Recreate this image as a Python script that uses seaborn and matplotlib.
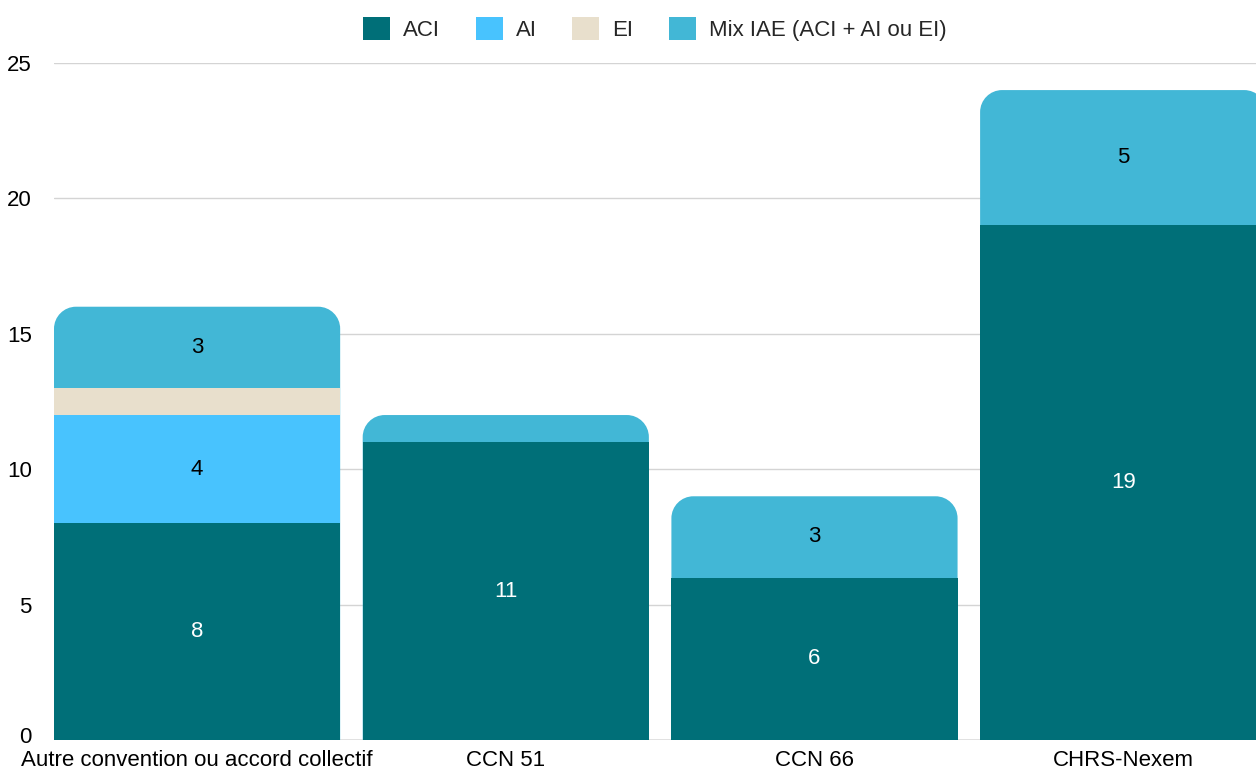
import numpy as np
import pandas as pd
import matplotlib
matplotlib.use("Agg")
import matplotlib.pyplot as plt
import matplotlib.transforms as mtransforms
import seaborn as sns
from matplotlib.path import Path
from matplotlib.patches import PathPatch, Patch

# Données
categories = ["Autre convention ou accord collectif", "CCN 51", "CCN 66", "CHRS-Nexem"]
aci = [8, 11, 6, 19]
ai = [4, 0, 0, 0]
ei = [1, 0, 0, 0]
mix = [3, 1, 3, 5]
series_names = ["ACI", "AI", "EI", "Mix IAE (ACI + AI ou EI)"]
colors = ["#006f78", "#48c3fe", "#e8dfcc", "#42b7d6"]
label_colors = ["white", "black", "black", "black"]
yticks = [0, 5, 10, 15, 20, 25]

df = pd.DataFrame({"categorie": categories, "ACI": aci, "AI": ai, "EI": ei, "Mix": mix})
layers = ["ACI", "AI", "EI", "Mix"]
cum = df[layers].cumsum(axis=1)

sns.set_theme(style="white")
plt.rcParams["font.family"] = ["Liberation Sans", "DejaVu Sans"]
FS = 16

fig = plt.figure(figsize=(12.56, 7.72), dpi=100)
ax = fig.add_axes([54 / 1256, 32 / 772, 1 - 54 / 1256, (740 - 63) / 772])

bar_w = 0.927

# Empilement : on trace les cumuls du haut vers le bas
for i in range(len(layers) - 1, -1, -1):
    n_before = len(ax.patches)
    sns.barplot(x=df["categorie"], y=cum[layers[i]], color=colors[i], saturation=1,
                width=bar_w, ax=ax, linewidth=0, edgecolor="none",
                zorder=2 + (3 - i) * 0.01)
    if i == len(layers) - 1:
        # coins arrondis en haut de la barre totale
        rects = ax.patches[n_before:]
        rx, ry = 22 / 308.7, 22 / 27.08
        k = 0.5523
        for r in list(rects):
            x0, y0 = r.get_x(), r.get_y()
            x1, y1 = x0 + r.get_width(), y0 + r.get_height()
            verts = [(x0, y0), (x0, y1 - ry),
                     (x0, y1 - ry + k * ry), (x0 + rx - k * rx, y1), (x0 + rx, y1),
                     (x1 - rx, y1),
                     (x1 - rx + k * rx, y1), (x1, y1 - ry + k * ry), (x1, y1 - ry),
                     (x1, y0), (x0, y0)]
            codes = [Path.MOVETO, Path.LINETO,
                     Path.CURVE4, Path.CURVE4, Path.CURVE4,
                     Path.LINETO,
                     Path.CURVE4, Path.CURVE4, Path.CURVE4,
                     Path.LINETO, Path.CLOSEPOLY]
            r.remove()
            ax.add_patch(PathPatch(Path(verts, codes), facecolor=colors[i],
                                   edgecolor="none", linewidth=0, zorder=2))

# Étiquettes de valeurs
for j in range(len(categories)):
    base = 0
    for i, name in enumerate(layers):
        v = df[name][j]
        if v > 1:
            ax.text(j, base + v / 2, str(v), ha="center", va="center",
                    color=label_colors[i], fontsize=FS, zorder=5)
        base += v

ax.set_xlim(-bar_w / 2, -bar_w / 2 + 1202 / 308.7)
ax.set_ylim(0, 25)
ax.set_yticks(yticks)
ax.set_axisbelow(True)
ax.yaxis.grid(True, color="#d4d4d4", linewidth=1)
ax.axhline(0, color="#8c8c8c", linewidth=1, zorder=1)
sns.despine(ax=ax, left=True, bottom=True, top=True, right=True)
ax.tick_params(axis="both", length=0, labelsize=FS, colors="black")
ax.tick_params(axis="y", pad=16)
ax.tick_params(axis="x", pad=7)
ax.set_xlabel("")
ax.set_ylabel("")

# petit décalage du "0" pour ne pas toucher le libellé de la première catégorie
lab0 = ax.get_yticklabels()[0]
lab0.set_transform(lab0.get_transform() + mtransforms.ScaledTranslation(0, 5 / 100, fig.dpi_scale_trans))

handles = [Patch(facecolor=c, edgecolor="none") for c in colors]
fig.legend(handles, series_names, loc="center", bbox_to_anchor=(655 / 1256, 1 - 29 / 772),
           ncol=4, frameon=False, fontsize=FS, handlelength=1.2, handleheight=1.2,
           handletextpad=0.6, columnspacing=1.6)

fig.savefig("out.png", dpi=100)
plt.close(fig)
